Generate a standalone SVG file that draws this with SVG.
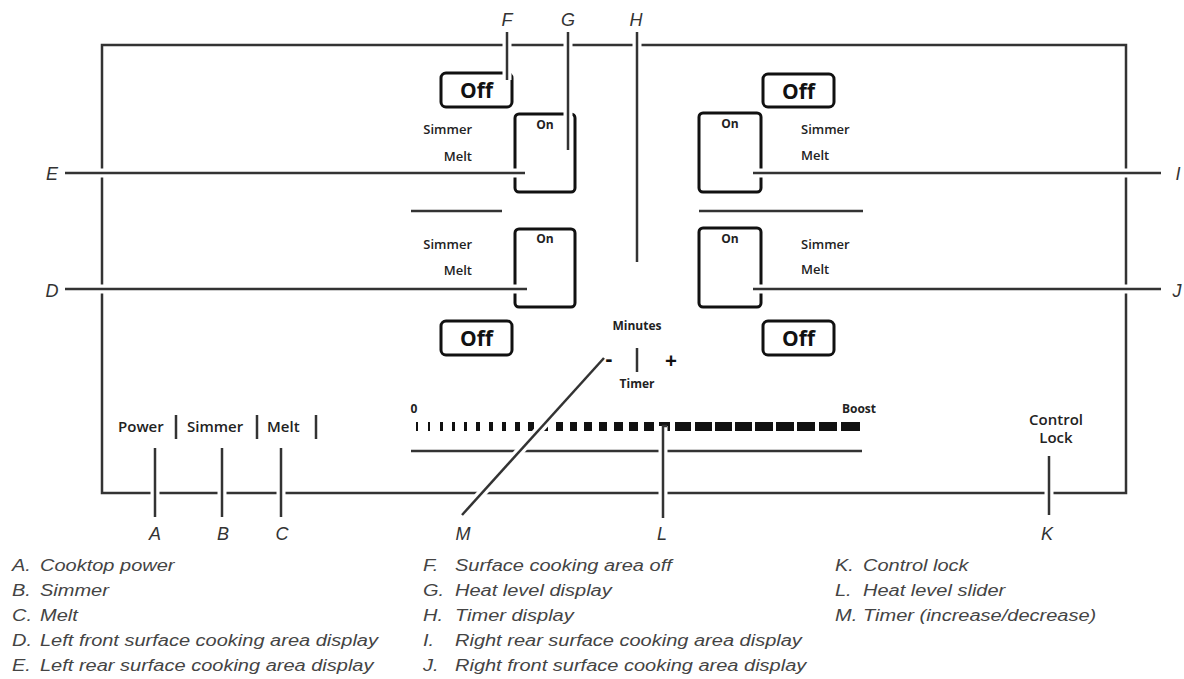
<svg xmlns="http://www.w3.org/2000/svg" width="1184" height="679" viewBox="0 0 1184 679">
<style>
.ln{stroke:#333;stroke-width:2.5;fill:none;stroke-linecap:butt}
.box{stroke:#111;stroke-width:3;fill:none}
.halo{stroke:#fff;stroke-width:9;fill:none;stroke-linecap:butt}
.co{stroke:#333;stroke-width:2.5;fill:none;stroke-linecap:butt}
.off{font-family:"Open Sans","Liberation Sans",sans-serif;font-weight:700;font-size:21px;fill:#111;text-anchor:middle}
.on{font-family:"Open Sans","Liberation Sans",sans-serif;font-weight:700;font-size:12px;fill:#222;text-anchor:middle}
.sm{font-family:"Open Sans","Liberation Sans",sans-serif;font-weight:600;font-size:13px;fill:#222}
.lbl{font-family:"Open Sans","Liberation Sans",sans-serif;font-weight:600;font-size:15px;fill:#222}
.let{font-family:"Liberation Sans",Arial,sans-serif;font-style:italic;font-size:18px;fill:#333;text-anchor:middle}
.leg{font-family:"Liberation Sans",Arial,sans-serif;font-style:italic;font-size:16px;fill:#444}
.tk{fill:#111}
</style>
<rect width="1184" height="679" fill="#fff"/>
<g id="panel">
<rect x="102" y="45" width="1024" height="448" class="ln"/>
</g>
<g id="rear-left">
<rect x="441" y="73" width="71" height="34" rx="5" class="box"/>
<text x="476.5" y="98" class="off">Off</text>
<rect x="515" y="114" width="60" height="78" rx="4" class="box"/>
<text x="545" y="129" class="on">On</text>
<text x="472" y="134" class="sm" text-anchor="end">Simmer</text>
<text x="472" y="161" class="sm" text-anchor="end">Melt</text>
</g>
<g id="front-left">
<line x1="411" y1="211" x2="502" y2="211" class="ln"/>
<rect x="515" y="229" width="60" height="78" rx="4" class="box"/>
<text x="545" y="243" class="on">On</text>
<text x="472" y="249" class="sm" text-anchor="end">Simmer</text>
<text x="472" y="275" class="sm" text-anchor="end">Melt</text>
<rect x="441" y="321" width="71" height="34" rx="5" class="box"/>
<text x="476.5" y="346" class="off">Off</text>
</g>
<g id="rear-right">
<rect x="763" y="74" width="71" height="33" rx="5" class="box"/>
<text x="798.5" y="99" class="off">Off</text>
<rect x="699" y="113" width="62" height="79" rx="4" class="box"/>
<text x="730" y="128" class="on">On</text>
<text x="801" y="134" class="sm">Simmer</text>
<text x="801" y="160" class="sm">Melt</text>
</g>
<g id="front-right">
<line x1="699" y1="211" x2="863" y2="211" class="ln"/>
<rect x="699" y="228" width="62" height="79" rx="4" class="box"/>
<text x="730" y="243" class="on">On</text>
<text x="801" y="249" class="sm">Simmer</text>
<text x="801" y="274" class="sm">Melt</text>
<rect x="763" y="321" width="71" height="34" rx="5" class="box"/>
<text x="798.5" y="346" class="off">Off</text>
</g>
<g id="timer">
<text x="637" y="330" class="on" font-size="12.5">Minutes</text>
<line x1="637" y1="348" x2="637" y2="372" class="ln"/>
<text x="671" y="368" class="off" font-size="21" font-weight="600">+</text>
<text x="637" y="388" class="on">Timer</text>
</g>
<g id="slider">
<text x="414" y="413" class="on" font-size="11" text-anchor="start">0</text>
<text x="859" y="413" class="on" font-size="11.5" text-anchor="end">Boost</text>
<g class="tk">
<rect x="416" y="422" width="2" height="9"/>
<rect x="428" y="422" width="2" height="9"/>
<rect x="440" y="422" width="3" height="9"/>
<rect x="452" y="422" width="3" height="9"/>
<rect x="464" y="422" width="3" height="9"/>
<rect x="476" y="422" width="4" height="9"/>
<rect x="489" y="422" width="4" height="9"/>
<rect x="502" y="422" width="4" height="9"/>
<rect x="515" y="422" width="5" height="9"/>
<rect x="528" y="422" width="6" height="9"/>
<rect x="542" y="422" width="6" height="9"/>
<rect x="556" y="422" width="7" height="9"/>
<rect x="570" y="422" width="7" height="9"/>
<rect x="584" y="422" width="8" height="9"/>
<rect x="599" y="422" width="8" height="9"/>
<rect x="614" y="422" width="9" height="9"/>
<rect x="629" y="422" width="9" height="9"/>
<rect x="644" y="422" width="10" height="9"/>
<rect x="659" y="422" width="11" height="9"/>
<rect x="675" y="422" width="16" height="9"/>
<rect x="695" y="422" width="17" height="9"/>
<rect x="715" y="422" width="17" height="9"/>
<rect x="735" y="422" width="17" height="9"/>
<rect x="755" y="422" width="18" height="9"/>
<rect x="776" y="422" width="18" height="9"/>
<rect x="797" y="422" width="18" height="9"/>
<rect x="819" y="422" width="18" height="9"/>
<rect x="841" y="422" width="19" height="9"/>
</g>
<line x1="411" y1="451" x2="862" y2="451" class="ln"/>
</g>
<g id="power-controls">
<text x="118" y="432" class="lbl">Power</text>
<text x="187" y="432" class="lbl">Simmer</text>
<text x="267" y="432" class="lbl">Melt</text>
<g class="ln" stroke-width="3">
<line x1="176" y1="415" x2="176" y2="439"/>
<line x1="257" y1="415" x2="257" y2="439"/>
<line x1="316" y1="415" x2="316" y2="439"/>
</g>
</g>
<g id="control-lock">
<text x="1056" y="425" class="lbl" font-size="16" text-anchor="middle">Control</text>
<text x="1056" y="443" class="lbl" font-size="16" text-anchor="middle">Lock</text>
</g>
<g id="callouts">
<g class="halo">
<line x1="507" y1="32" x2="507" y2="80"/>
<line x1="568" y1="32" x2="568" y2="150"/>
<line x1="637" y1="32" x2="637" y2="262"/>
<line x1="65" y1="173" x2="525" y2="173"/>
<line x1="65" y1="289" x2="527" y2="289"/>
<line x1="753" y1="173" x2="1161" y2="173"/>
<line x1="753" y1="289" x2="1161" y2="289"/>
<line x1="155" y1="448" x2="155" y2="517"/>
<line x1="222" y1="448" x2="222" y2="517"/>
<line x1="281" y1="448" x2="281" y2="517"/>
<line x1="1049" y1="456" x2="1049" y2="515"/>
<line x1="663" y1="426" x2="663" y2="518"/>
<line x1="604" y1="358" x2="462" y2="515"/>
</g>
<g class="co">
<line x1="507" y1="32" x2="507" y2="80"/>
<line x1="568" y1="32" x2="568" y2="150"/>
<line x1="637" y1="32" x2="637" y2="262"/>
<line x1="65" y1="173" x2="525" y2="173"/>
<line x1="65" y1="289" x2="527" y2="289"/>
<line x1="753" y1="173" x2="1161" y2="173"/>
<line x1="753" y1="289" x2="1161" y2="289"/>
<line x1="155" y1="448" x2="155" y2="517"/>
<line x1="222" y1="448" x2="222" y2="517"/>
<line x1="281" y1="448" x2="281" y2="517"/>
<line x1="1049" y1="456" x2="1049" y2="515"/>
<polyline points="663,518 663,426 667,426"/>
<line x1="604" y1="358" x2="462" y2="515"/>
</g>
</g>
<g id="timer-minus">
<text x="609" y="366" class="off" font-size="20">-</text>
</g>
<g id="letters">
<text x="507" y="26" class="let">F</text>
<text x="568" y="26" class="let">G</text>
<text x="636" y="26" class="let">H</text>
<text x="52" y="180" class="let">E</text>
<text x="52" y="297" class="let">D</text>
<text x="1178" y="180" class="let">I</text>
<text x="1177" y="297" class="let">J</text>
<text x="155" y="540" class="let">A</text>
<text x="223" y="540" class="let">B</text>
<text x="282" y="540" class="let">C</text>
<text x="463" y="540" class="let">M</text>
<text x="662" y="540" class="let">L</text>
<text x="1047" y="540" class="let">K</text>
</g>
<g id="legend" transform="scale(1.25 1)" class="leg">
<text x="9.6" y="571">A.</text><text x="32" y="571">Cooktop power</text>
<text x="9.6" y="596">B.</text><text x="32" y="596">Simmer</text>
<text x="9.6" y="621">C.</text><text x="32" y="621">Melt</text>
<text x="9.6" y="646">D.</text><text x="32" y="646">Left front surface cooking area display</text>
<text x="9.6" y="671">E.</text><text x="32" y="671">Left rear surface cooking area display</text>
<text x="338.4" y="571">F.</text><text x="364" y="571">Surface cooking area off</text>
<text x="338.4" y="596">G.</text><text x="364" y="596">Heat level display</text>
<text x="338.4" y="621">H.</text><text x="364" y="621">Timer display</text>
<text x="338.4" y="646">I.</text><text x="364" y="646">Right rear surface cooking area display</text>
<text x="338.4" y="671">J.</text><text x="364" y="671">Right front surface cooking area display</text>
<text x="668" y="571">K.</text><text x="690.4" y="571">Control lock</text>
<text x="668" y="596">L.</text><text x="690.4" y="596">Heat level slider</text>
<text x="668" y="621">M.</text><text x="690.4" y="621">Timer (increase/decrease)</text>
</g>
</svg>
